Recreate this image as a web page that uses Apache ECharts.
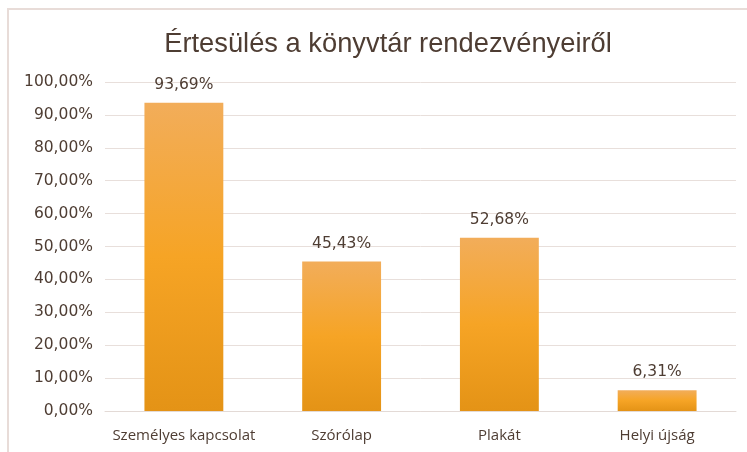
<!DOCTYPE html>
<html>
<head>
<meta charset="utf-8">
<script src="https://cdn.jsdelivr.net/npm/echarts@6/dist/echarts.min.js"></script>
<style>
  html, body { margin: 0; padding: 0; background: #fff; }
  #chart { width: 747px; height: 452px; }
</style>
</head>
<body>
<div id="chart"></div>
<script>
const categories = ["Személyes kapcsolat", "Szórólap", "Plakát", "Helyi újság"];
const values = [93.69, 45.43, 52.68, 6.31];
const yTicks = [0, 10, 20, 30, 40, 50, 60, 70, 80, 90, 100];

const fmt = v => v.toFixed(2).replace(".", ",") + "%";
const labelFont = "'Open Sans', Lato, sans-serif";
const numFont = "'DejaVu Sans', sans-serif";

const barColor = new echarts.graphic.LinearGradient(0, 0, 0, 1, [
  { offset: 0, color: "#f2ad5a" },
  { offset: 0.5, color: "#f6a425" },
  { offset: 1, color: "#e49316" }
]);

const chart = echarts.init(document.getElementById("chart"));
chart.setOption({
  animation: false,
  backgroundColor: "#fff",
  graphic: [{
    type: "rect",
    shape: { x: 8, y: 9, width: 760, height: 460 },
    style: { fill: "none", stroke: "#e8dcd8", lineWidth: 2 }
  }],
  title: {
    text: "Értesülés a könyvtár rendezvényeiről",
    left: 383,
    textAlign: "center",
    top: 26,
    textStyle: {
      fontFamily: "'Liberation Sans', sans-serif",
      fontWeight: "normal",
      fontSize: 27.3,
      color: "#4e3d33"
    }
  },
  grid: { left: 105, right: 11, top: 82, bottom: 41 },
  xAxis: {
    type: "category",
    data: categories,
    axisTick: { show: false },
    axisLine: { lineStyle: { color: "#e3dad6" } },
    axisLabel: { interval: 0, color: "#4e3d33", fontSize: 15, fontFamily: labelFont, margin: 17 }
  },
  yAxis: {
    type: "value",
    min: yTicks[0],
    max: yTicks[yTicks.length - 1],
    interval: 10,
    axisLine: { show: false },
    axisTick: { show: false },
    splitLine: { lineStyle: { color: "#e8dfdb" } },
    axisLabel: { color: "#4e3d33", fontSize: 15.5, fontFamily: numFont, margin: 12, formatter: fmt }
  },
  series: [{
    type: "bar",
    data: values,
    barWidth: "50%",
    itemStyle: { color: barColor },
    label: {
      show: true,
      position: "top",
      distance: 10,
      color: "#4e3d33",
      fontSize: 15.5,
      fontFamily: numFont,
      formatter: p => fmt(p.value)
    }
  }]
});
</script>
</body>
</html>
